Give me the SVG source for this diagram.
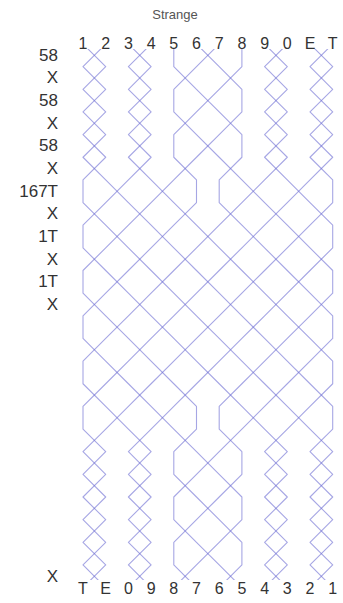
<svg xmlns="http://www.w3.org/2000/svg" width="343" height="603" viewBox="0 0 343 603">
<style>
.bg{fill:#ffffff}
.title{font-family:"Liberation Sans",Arial,sans-serif;font-size:13px;fill:#555;text-anchor:middle}
.bell-label{font-family:"Liberation Sans",Arial,sans-serif;font-size:16px;fill:#333;text-anchor:middle}
.pn{font-family:"Liberation Sans",Arial,sans-serif;font-size:17px;fill:#333;text-anchor:end}
.bell{fill:none;stroke:#6a6ad2;stroke-opacity:0.6;stroke-width:1.1;stroke-linejoin:round;vector-effect:non-scaling-stroke}
</style>
<defs>
<clipPath id="clip" clipPathUnits="userSpaceOnUse"><rect x="0" y="49" width="343" height="531"/></clipPath>
</defs>
<rect class="bg" x="0" y="0" width="343" height="603"/>
<g id="title"><text class="title" x="175" y="19">Strange</text></g>
<g id="connectors" clip-path="url(#clip)">
<g transform="translate(60.3,44) scale(22.7,22.65)">
<polyline id="bell-1" class="bell" points="1,0 2,1 1,2 2,3 1,4 2,5 1,6 1,7 2,8 3,9 4,10 5,11 6,12 7,13 8,14 9,15 10,16 11,17 12,18 11,19 12,20 11,21 12,22 11,23 12,24"/>
<polyline id="bell-2" class="bell" points="2,0 1,1 2,2 1,3 2,4 1,5 2,6 3,7 4,8 5,9 6,10 7,11 8,12 9,13 10,14 11,15 12,16 12,17 11,18 12,19 11,20 12,21 11,22 12,23 11,24"/>
<polyline id="bell-3" class="bell" points="3,0 4,1 3,2 4,3 3,4 4,5 3,6 2,7 1,8 1,9 2,10 3,11 4,12 5,13 6,14 7,15 8,16 9,17 10,18 9,19 10,20 9,21 10,22 9,23 10,24"/>
<polyline id="bell-4" class="bell" points="4,0 3,1 4,2 3,3 4,4 3,5 4,6 5,7 6,8 7,9 8,10 9,11 10,12 11,13 12,14 12,15 11,16 10,17 9,18 10,19 9,20 10,21 9,22 10,23 9,24"/>
<polyline id="bell-5" class="bell" points="5,0 5,1 6,2 7,3 8,4 8,5 7,6 7,7 8,8 9,9 10,10 11,11 12,12 12,13 11,14 10,15 9,16 8,17 7,18 6,19 5,20 5,21 6,22 7,23 8,24"/>
<polyline id="bell-6" class="bell" points="6,0 7,1 8,2 8,3 7,4 6,5 5,6 4,7 3,8 2,9 1,10 1,11 2,12 3,13 4,14 5,15 6,16 6,17 5,18 5,19 6,20 7,21 8,22 8,23 7,24"/>
<polyline id="bell-7" class="bell" points="7,0 6,1 5,2 5,3 6,4 7,5 8,6 9,7 10,8 11,9 12,10 12,11 11,12 10,13 9,14 8,15 7,16 7,17 8,18 8,19 7,20 6,21 5,22 5,23 6,24"/>
<polyline id="bell-8" class="bell" points="8,0 8,1 7,2 6,3 5,4 5,5 6,6 6,7 5,8 4,9 3,10 2,11 1,12 1,13 2,14 3,15 4,16 5,17 6,18 7,19 8,20 8,21 7,22 6,23 5,24"/>
<polyline id="bell-9" class="bell" points="9,0 10,1 9,2 10,3 9,4 10,5 9,6 8,7 7,8 6,9 5,10 4,11 3,12 2,13 1,14 1,15 2,16 3,17 4,18 3,19 4,20 3,21 4,22 3,23 4,24"/>
<polyline id="bell-0" class="bell" points="10,0 9,1 10,2 9,3 10,4 9,5 10,6 11,7 12,8 12,9 11,10 10,11 9,12 8,13 7,14 6,15 5,16 4,17 3,18 4,19 3,20 4,21 3,22 4,23 3,24"/>
<polyline id="bell-E" class="bell" points="11,0 12,1 11,2 12,3 11,4 12,5 11,6 10,7 9,8 8,9 7,10 6,11 5,12 4,13 3,14 2,15 1,16 1,17 2,18 1,19 2,20 1,21 2,22 1,23 2,24"/>
<polyline id="bell-T" class="bell" points="12,0 11,1 12,2 11,3 12,4 11,5 12,6 12,7 11,8 10,9 9,10 8,11 7,12 6,13 5,14 4,15 3,16 2,17 1,18 2,19 1,20 2,21 1,22 2,23 1,24"/>
</g>
</g>
<g id="top-row">
<text class="bell-label" x="83" y="49">1</text>
<text class="bell-label" x="105.7" y="49">2</text>
<text class="bell-label" x="128.4" y="49">3</text>
<text class="bell-label" x="151.1" y="49">4</text>
<text class="bell-label" x="173.8" y="49">5</text>
<text class="bell-label" x="196.5" y="49">6</text>
<text class="bell-label" x="219.2" y="49">7</text>
<text class="bell-label" x="241.9" y="49">8</text>
<text class="bell-label" x="264.6" y="49">9</text>
<text class="bell-label" x="287.3" y="49">0</text>
<text class="bell-label" x="310" y="49">E</text>
<text class="bell-label" x="332.7" y="49">T</text>
</g>
<g id="bottom-row">
<text class="bell-label" x="83" y="594">T</text>
<text class="bell-label" x="105.7" y="594">E</text>
<text class="bell-label" x="128.4" y="594">0</text>
<text class="bell-label" x="151.1" y="594">9</text>
<text class="bell-label" x="173.8" y="594">8</text>
<text class="bell-label" x="196.5" y="594">7</text>
<text class="bell-label" x="219.2" y="594">6</text>
<text class="bell-label" x="241.9" y="594">5</text>
<text class="bell-label" x="264.6" y="594">4</text>
<text class="bell-label" x="287.3" y="594">3</text>
<text class="bell-label" x="310" y="594">2</text>
<text class="bell-label" x="332.7" y="594">1</text>
</g>
<g id="place-notation">
<text class="pn" x="58" y="60.6">58</text>
<text class="pn" x="58" y="83.3">X</text>
<text class="pn" x="58" y="105.9">58</text>
<text class="pn" x="58" y="128.6">X</text>
<text class="pn" x="58" y="151.2">58</text>
<text class="pn" x="58" y="173.9">X</text>
<text class="pn" x="58" y="196.5">167T</text>
<text class="pn" x="58" y="219.2">X</text>
<text class="pn" x="58" y="241.8">1T</text>
<text class="pn" x="58" y="264.5">X</text>
<text class="pn" x="58" y="287.1">1T</text>
<text class="pn" x="58" y="309.8">X</text>
<text class="pn" x="58" y="582.3">X</text>
</g>
</svg>
